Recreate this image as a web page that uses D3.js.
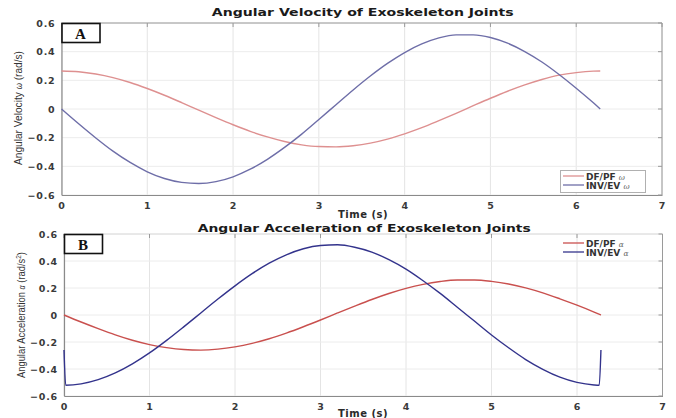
<!DOCTYPE html>
<html><head><meta charset="utf-8">
<script src="https://cdn.jsdelivr.net/npm/d3@7"></script>
<style>
body{margin:0;background:#fff;}
svg{display:block;}
</style></head>
<body><svg id="c" width="676" height="418"></svg>
<script>
// ---- data ----
const timeA = [0,0.2,0.4,0.6,0.8,1.0,1.2,1.4,1.6,1.8,2.0,2.2,2.4,2.6,2.8,3.0,3.2,3.4,3.6,3.8,4.0,4.2,4.4,4.6,4.8,5.0,5.2,5.4,5.6,5.8,6.0,6.2,6.28];
const dfpfOmega = [0.265,0.260,0.244,0.219,0.185,0.143,0.096,0.045,-0.008,-0.060,-0.110,-0.156,-0.195,-0.227,-0.250,-0.262,-0.264,-0.256,-0.238,-0.210,-0.173,-0.130,-0.081,-0.030,0.023,0.075,0.124,0.168,0.206,0.236,0.254,0.264,0.265];
const invevOmega = [0,-0.103,-0.202,-0.294,-0.373,-0.438,-0.485,-0.512,-0.520,-0.507,-0.473,-0.420,-0.351,-0.268,-0.175,-0.073,0.030,0.133,0.230,0.318,0.394,0.454,0.496,0.517,0.517,0.499,0.459,0.401,0.328,0.241,0.145,0.043,0];

const timeB = timeA;
const dfpfAlpha = [0,-0.052,-0.101,-0.147,-0.187,-0.219,-0.242,-0.256,-0.260,-0.253,-0.236,-0.210,-0.176,-0.134,-0.087,-0.037,0.015,0.066,0.115,0.159,0.197,0.227,0.248,0.259,0.259,0.249,0.230,0.201,0.164,0.120,0.073,0.022,0];
const timeBInv = [0,0.02,0.2,0.4,0.6,0.8,1.0,1.2,1.4,1.6,1.8,2.0,2.2,2.4,2.6,2.8,3.0,3.2,3.4,3.6,3.8,4.0,4.2,4.4,4.6,4.8,5.0,5.2,5.4,5.6,5.8,6.0,6.2,6.26,6.28];
const invevAlpha = [-0.26,-0.52,-0.510,-0.479,-0.429,-0.362,-0.281,-0.188,-0.088,0.015,0.118,0.216,0.306,0.384,0.446,0.491,0.515,0.520,0.502,0.466,0.410,0.340,0.254,0.160,0.058,-0.045,-0.148,-0.243,-0.330,-0.402,-0.460,-0.499,-0.518,-0.520,-0.26];

const xTicks = [0,1,2,3,4,5,6,7];
const yTicks = [-0.6,-0.4,-0.2,0,0.2,0.4,0.6];

const svg = d3.select("#c");

function panel(cfg){
  const x = d3.scaleLinear().domain([0,7]).range([cfg.x0,cfg.x1]);
  const y = d3.scaleLinear().domain([-0.6,0.6]).range([cfg.y1,cfg.y0]);
  const g = svg.append("g");
  // grid
  g.append("g").selectAll("line.vx").data(xTicks).join("line")
    .attr("x1",d=>x(d)).attr("x2",d=>x(d)).attr("y1",cfg.y0).attr("y2",cfg.y1)
    .attr("stroke","#e4e4e4").attr("stroke-width",1);
  g.append("g").selectAll("line.hy").data(yTicks).join("line")
    .attr("y1",d=>y(d)).attr("y2",d=>y(d)).attr("x1",cfg.x0).attr("x2",cfg.x1)
    .attr("stroke","#ececec").attr("stroke-width",1);
  // axes
  const xa = g.append("g").attr("transform",`translate(0,${cfg.y1})`)
    .call(d3.axisBottom(x).tickValues(xTicks).tickFormat(d3.format("d")).tickSize(0).tickPadding(7));
  const ya = g.append("g").attr("transform",`translate(${cfg.x0},0)`)
    .call(d3.axisLeft(y).tickValues(yTicks).tickFormat(d=>d===0?"0":d3.format(".1f")(d)).tickSize(0).tickPadding(6));
  [xa,ya].forEach(a=>{
    a.select(".domain").attr("stroke","#8a8a8a").attr("stroke-width",1.2);
    a.selectAll("text").attr("font-family","DejaVu Sans").attr("font-weight","bold")
      .attr("font-size","9.5px").attr("letter-spacing","0.8px").attr("fill","#3a3a3a");
  });
  // top/right border
  g.append("line").attr("x1",cfg.x0).attr("x2",cfg.x1).attr("y1",cfg.y0).attr("y2",cfg.y0)
    .attr("stroke",cfg.topColor).attr("stroke-width",1);
  g.append("line").attr("x1",cfg.x1).attr("x2",cfg.x1).attr("y1",cfg.y0).attr("y2",cfg.y1)
    .attr("stroke","#9a9a9a").attr("stroke-width",1);
  // inner ticks on right
  g.append("g").selectAll("line").data(yTicks).join("line")
    .attr("x1",cfg.x1-4).attr("x2",cfg.x1).attr("y1",d=>y(d)).attr("y2",d=>y(d))
    .attr("stroke","#9a9a9a");
  g.append("g").selectAll("line").data(xTicks).join("line")
    .attr("x1",d=>x(d)).attr("x2",d=>x(d)).attr("y1",cfg.y0).attr("y2",cfg.y0+4)
    .attr("stroke","#9a9a9a");
  // lines
  const line = d3.line().x(d=>x(d[0])).y(d=>y(d[1])).curve(d3.curveMonotoneX);
  cfg.series.forEach(s=>{
    g.append("path").datum(s.t.map((t,i)=>[t,s.v[i]]))
      .attr("d",line).attr("fill","none").attr("stroke",s.color).attr("stroke-width",1.4);
  });
  // title
  g.append("text").attr("x",(cfg.x0+cfg.x1)/2+1).attr("y",cfg.titleY).attr("text-anchor","middle")
    .attr("font-family","DejaVu Sans").attr("font-weight","bold").attr("font-size","11px")
    .attr("textLength",cfg.titleLen).attr("lengthAdjust","spacingAndGlyphs")
    .attr("fill","#1a1a1a").text(cfg.title);
  // x label
  g.append("text").attr("x",363).attr("y",cfg.xlabY).attr("text-anchor","middle")
    .attr("font-family","DejaVu Sans").attr("font-weight","bold").attr("font-size","10px")
    .attr("letter-spacing","0.5px").attr("fill","#2a2a2a").text("Time (s)");
  // y label
  const yl = g.append("text").attr("transform",`translate(${cfg.ylabX},${cfg.ylabCY}) rotate(-90)`)
    .attr("text-anchor","middle").attr("font-family","Liberation Sans Narrow, Liberation Sans")
    .attr("font-size","11.5px").attr("fill","#333")
    .attr("textLength",cfg.ylabLen).attr("lengthAdjust","spacingAndGlyphs");
  cfg.ylab(yl);
  // panel letter box
  g.append("rect").attr("x",cfg.x0+0.5).attr("y",cfg.y0+0.5).attr("width",38).attr("height",19)
    .attr("fill","#fff").attr("stroke","#111").attr("stroke-width",1.6);
  g.append("text").attr("x",cfg.x0+19).attr("y",cfg.y0+15.5).attr("text-anchor","middle")
    .attr("font-family","Liberation Serif").attr("font-weight","bold").attr("font-size","15px")
    .attr("fill","#111").text(cfg.letter);
  // legend
  const lg = g.append("g");
  if(cfg.legendBox){
    lg.append("rect").attr("x",cfg.legendBox[0]).attr("y",cfg.legendBox[1]).attr("width",cfg.legendBox[2]).attr("height",cfg.legendBox[3])
      .attr("fill","#fff").attr("stroke","#b0b0b0").attr("stroke-width",1);
  }
  cfg.series.forEach((s,i)=>{
    const ly = cfg.legY + i*9;
    lg.append("line").attr("x1",cfg.legX).attr("x2",cfg.legX+21).attr("y1",ly).attr("y2",ly)
      .attr("stroke",s.color).attr("stroke-width",1.3);
    const tx = lg.append("text").attr("x",cfg.legX+23).attr("y",ly+3.5)
      .attr("font-family","DejaVu Sans").attr("font-weight","bold").attr("font-size","9px").attr("fill","#333");
    tx.append("tspan").text(s.name+" ");
    tx.append("tspan").attr("font-family","DejaVu Serif").attr("font-style","italic").attr("font-weight","normal")
      .attr("font-size","7.5px").attr("fill","#666").text(s.sym);
  });
}

panel({x0:61.5,x1:662,y0:23,y1:195,topColor:"#9a9a9a",
  title:"Angular Velocity of Exoskeleton Joints",titleY:16,titleLen:302,xlabY:218,
  ylabX:22,ylabCY:108,ylabLen:114,
  ylab:t=>{t.append("tspan").text("Angular Velocity ");t.append("tspan").attr("font-style","italic").attr("font-size","9px").text("ω");t.append("tspan").text(" (rad/s)");},
  letter:"A",
  legendBox:[560.5,170.5,85,22],legX:563,legY:176,
  series:[{t:timeA,v:dfpfOmega,color:"#de9090",name:"DF/PF",sym:"ω"},
          {t:timeA,v:invevOmega,color:"#6e6ea8",name:"INV/EV",sym:"ω"}]});

panel({x0:64,x1:662.5,y0:234,y1:396,topColor:"#dcdcdc",
  title:"Angular Acceleration of Exoskeleton Joints",titleY:232,titleLen:333,xlabY:417,
  ylabX:25,ylabCY:315,ylabLen:126,
  ylab:t=>{t.append("tspan").text("Angular Acceleration ");t.append("tspan").attr("font-style","italic").attr("font-size","9px").text("α");t.append("tspan").text(" (rad/s");t.append("tspan").attr("baseline-shift","super").attr("font-size","8px").text("2");t.append("tspan").text(")");},
  letter:"B",
  legendBox:null,legX:563,legY:243,
  series:[{t:timeB,v:dfpfAlpha,color:"#c9504e",name:"DF/PF",sym:"α"},
          {t:timeBInv,v:invevAlpha,color:"#33338c",name:"INV/EV",sym:"α"}]});
</script></body></html>
